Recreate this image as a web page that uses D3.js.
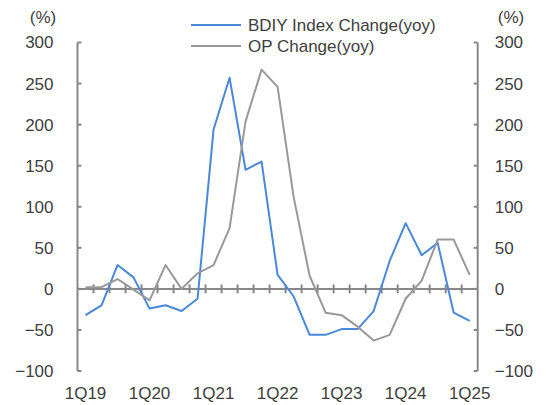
<!DOCTYPE html>
<html>
<head>
<meta charset="utf-8">
<script src="https://cdn.jsdelivr.net/npm/d3@7"></script>
<style>
  body { margin: 0; background: #fff; }
  text { font-family: "Liberation Sans", Arial, sans-serif; fill: #404040; }
</style>
</head>
<body>
<div id="chart"></div>
<script>
// quarters 1Q19 .. 1Q25
const quarters = [];
for (let y = 19; y <= 25; y++) for (let q = 1; q <= 4; q++) if (!(y === 25 && q > 1)) quarters.push(q + "Q" + y);

const tickLabels = ["1Q19", "1Q20", "1Q21", "1Q22", "1Q23", "1Q24", "1Q25"];
const yTicks = [-100, -50, 0, 50, 100, 150, 200, 250, 300];

const bdiyChange = [-32, -20, 29, 14, -24, -20, -27, -12, 194, 257, 145, 155,
                    17, -9, -56, -56, -49, -49, -27, 34, 80, 41, 56, -29, -39];
const opChange = [2, 2, 12, -1, -14, 29, 0, 19, 29, 74, 204, 267,
                  246, 112, 16, -29, -32, -46, -63, -56, -12, 10, 60, 60, 17];

const seriesNames = ["BDIY Index Change(yoy)", "OP Change(yoy)"];
const seriesColors = ["#4a88d8", "#999999"];

const width = 549, height = 405;
const marginLeft = 77.5, marginRight = 71.3, marginTop = 42.5, marginBottom = 34;

const svg = d3.select("#chart").append("svg")
    .attr("width", width)
    .attr("height", height);

const x = d3.scaleBand(quarters, [marginLeft, width - marginRight]);
const y = d3.scaleLinear([-100, 300], [height - marginBottom, marginTop]);

const axisColor = "#888888";

// left axis
const yAxisL = d3.axisLeft(y).tickValues(yTicks).tickSize(0).tickPadding(24);
svg.append("g")
    .attr("transform", `translate(${marginLeft},0)`)
    .call(yAxisL)
    .call(g => g.select(".domain").remove())
    .call(g => g.selectAll("text").attr("font-size", 17).attr("fill", "#404040"));
svg.append("line")
    .attr("x1", marginLeft).attr("x2", marginLeft)
    .attr("y1", y(300)).attr("y2", y(-100))
    .attr("stroke", axisColor).attr("stroke-width", 2);
svg.append("g").selectAll("line").data(yTicks).join("line")
    .attr("x1", marginLeft).attr("x2", marginLeft + 4)
    .attr("y1", d => y(d)).attr("y2", d => y(d))
    .attr("stroke", axisColor).attr("stroke-width", 2);

// right axis
const xr = width - marginRight;
const yAxisR = d3.axisRight(y).tickValues(yTicks).tickSize(0).tickPadding(17);
svg.append("g")
    .attr("transform", `translate(${xr},0)`)
    .call(yAxisR)
    .call(g => g.select(".domain").remove())
    .call(g => g.selectAll("text").attr("font-size", 17).attr("fill", "#404040"));
svg.append("line")
    .attr("x1", xr).attr("x2", xr)
    .attr("y1", y(300)).attr("y2", y(-100))
    .attr("stroke", axisColor).attr("stroke-width", 2);
svg.append("g").selectAll("line").data(yTicks).join("line")
    .attr("x1", xr - 4).attr("x2", xr)
    .attr("y1", d => y(d)).attr("y2", d => y(d))
    .attr("stroke", axisColor).attr("stroke-width", 2);

// zero line with quarter ticks
svg.append("line")
    .attr("x1", marginLeft).attr("x2", xr)
    .attr("y1", y(0)).attr("y2", y(0))
    .attr("stroke", axisColor).attr("stroke-width", 2);
svg.append("g").selectAll("line").data(quarters.slice(1)).join("line")
    .attr("x1", d => x(d)).attr("x2", d => x(d))
    .attr("y1", y(0) - 4.5).attr("y2", y(0) + 4.5)
    .attr("stroke", axisColor).attr("stroke-width", 2);

// x labels
svg.append("g").selectAll("text").data(tickLabels).join("text")
    .attr("x", d => x(d) + x.bandwidth() / 2)
    .attr("y", height - 6)
    .attr("text-anchor", "middle")
    .attr("font-size", 17)
    .text(d => d);

// unit labels
svg.append("text").attr("x", 43).attr("y", 23).attr("text-anchor", "middle")
    .attr("font-size", 17).text("(%)");
svg.append("text").attr("x", 511).attr("y", 23).attr("text-anchor", "middle")
    .attr("font-size", 17).text("(%)");

// lines
const line = d3.line()
    .x((d, i) => x(quarters[i]) + x.bandwidth() / 2)
    .y(d => y(d));

[bdiyChange, opChange].forEach((s, k) => {
  svg.append("path")
      .datum(s)
      .attr("fill", "none")
      .attr("stroke", seriesColors[k])
      .attr("stroke-width", 2)
      .attr("stroke-linejoin", "round")
      .attr("d", line);
});

// legend
const legend = svg.append("g");
seriesNames.forEach((name, k) => {
  const ly = 25 + k * 21;
  legend.append("line")
      .attr("x1", 191).attr("x2", 241)
      .attr("y1", ly).attr("y2", ly)
      .attr("stroke", seriesColors[k]).attr("stroke-width", 2);
  legend.append("text")
      .attr("x", 248).attr("y", ly)
      .attr("dy", "0.35em")
      .attr("font-size", 17)
      .text(name);
});
</script>
</body>
</html>
